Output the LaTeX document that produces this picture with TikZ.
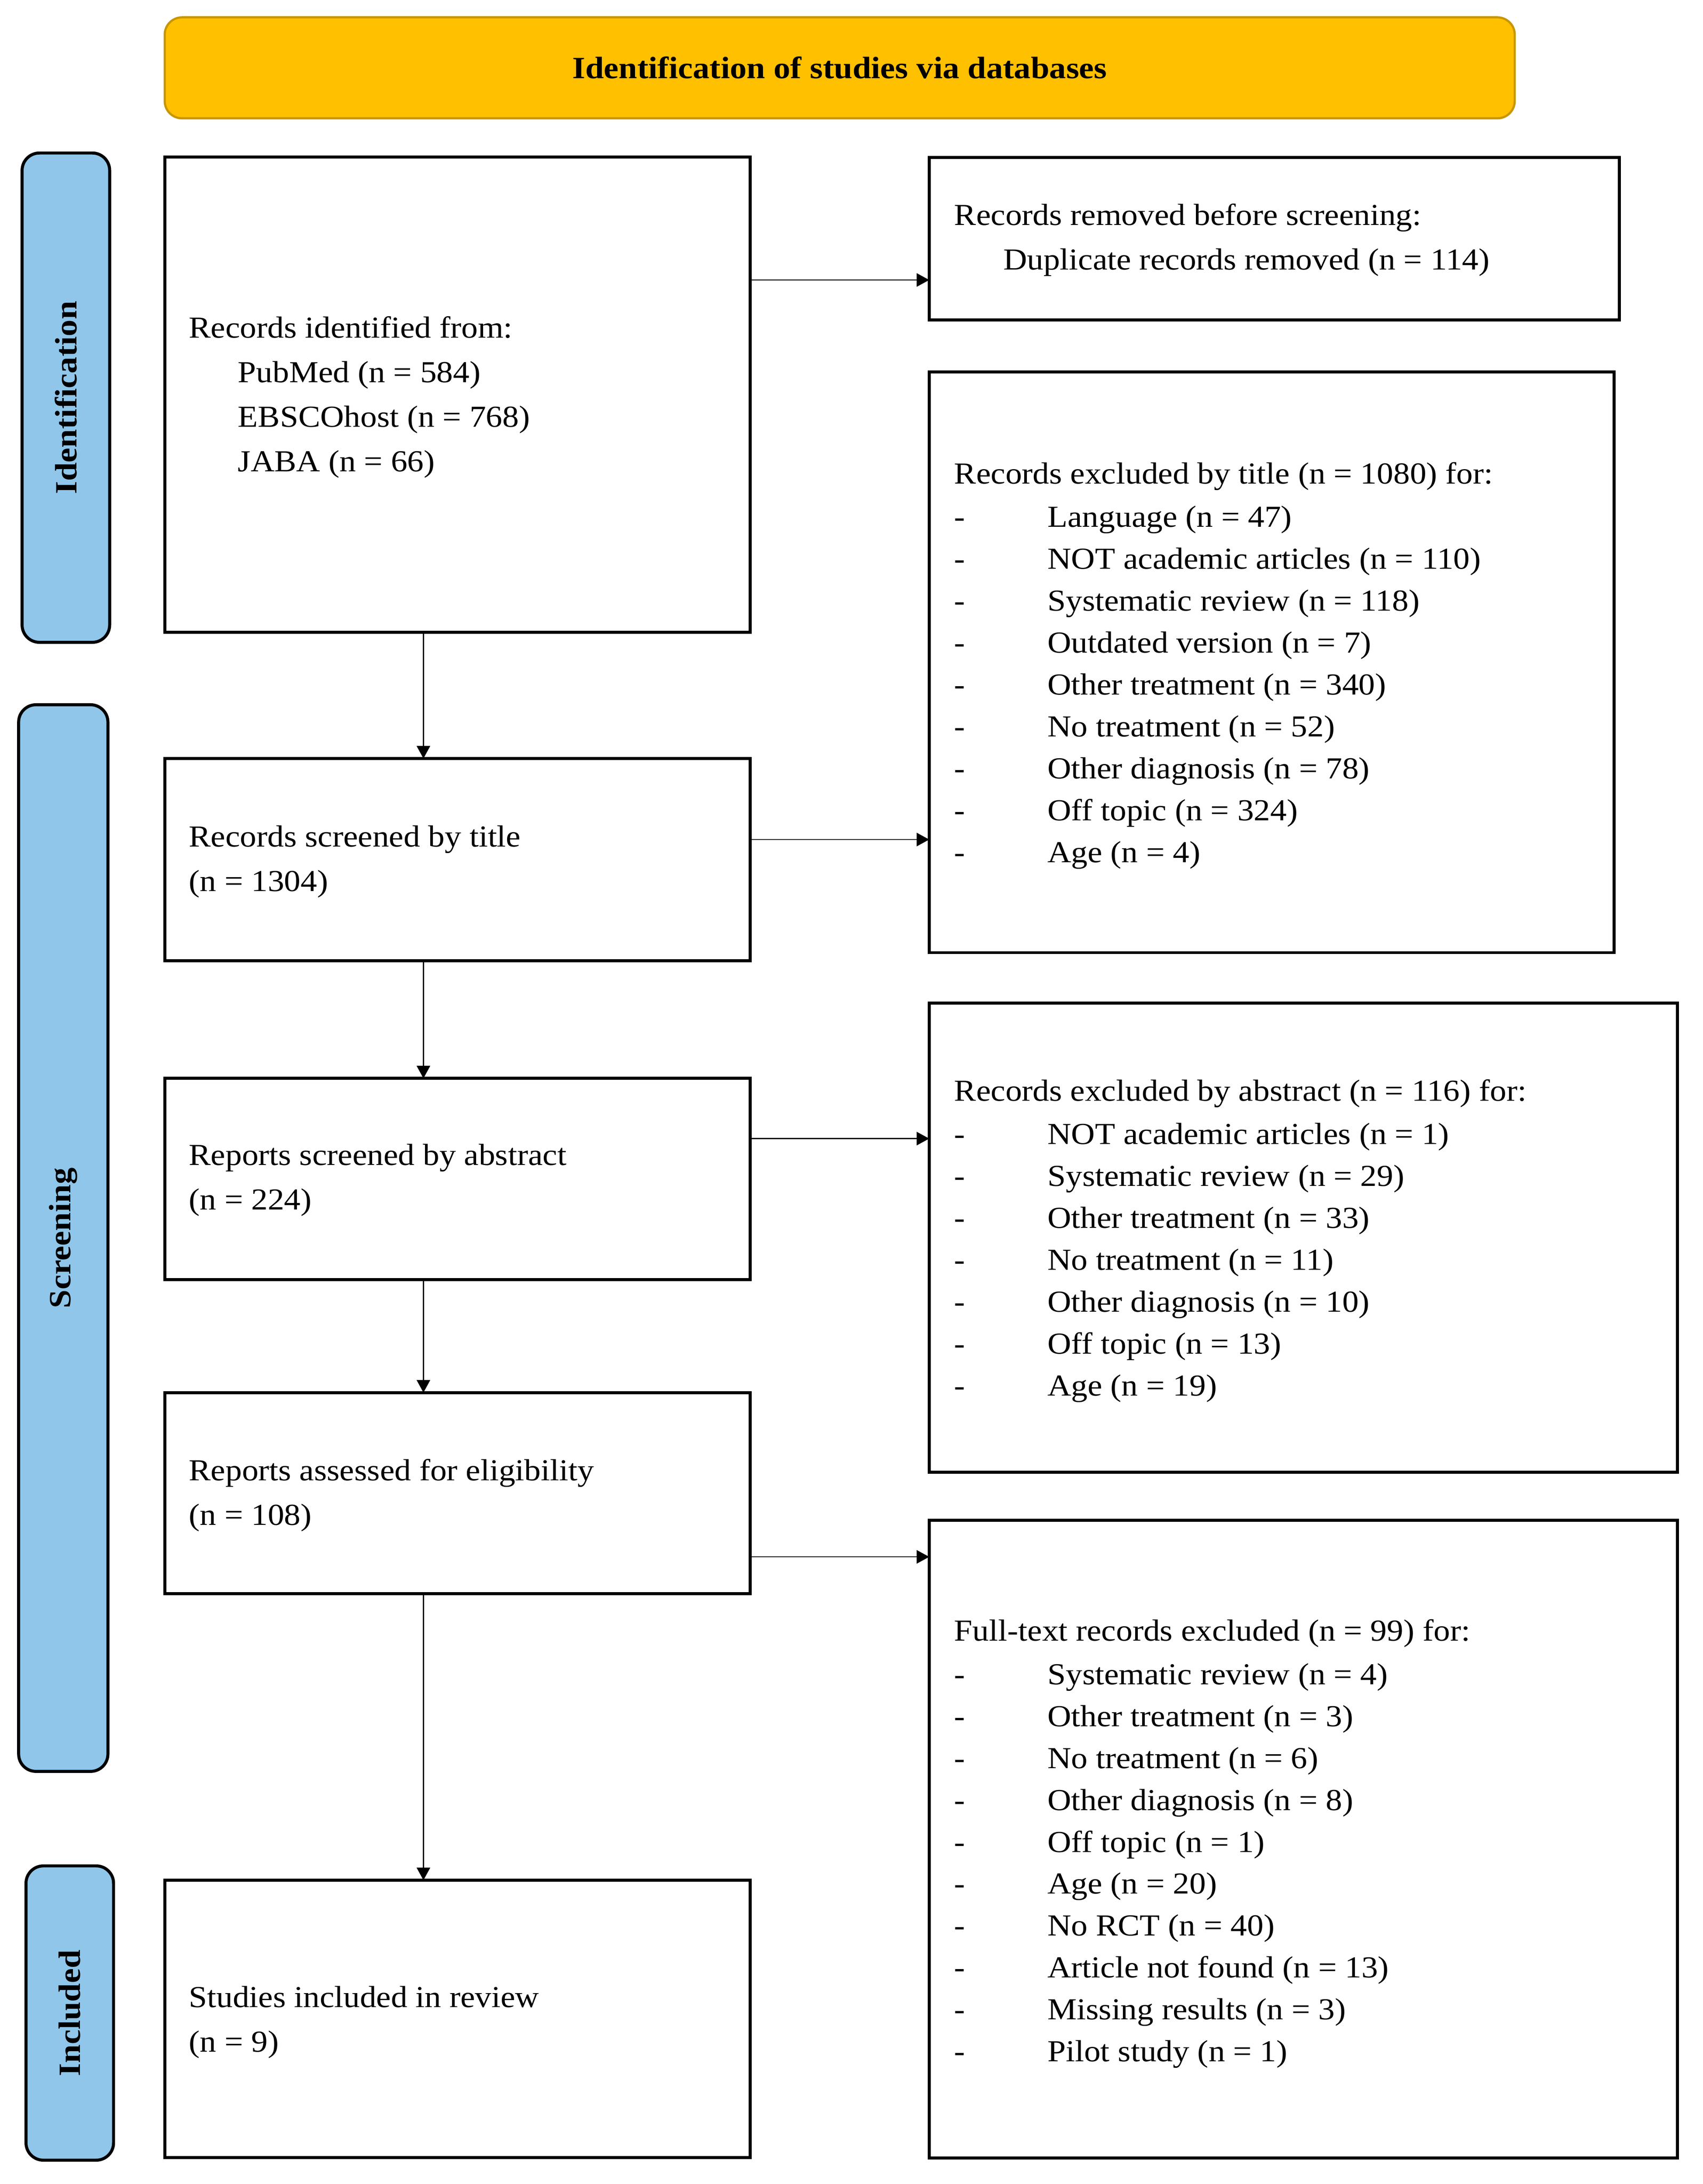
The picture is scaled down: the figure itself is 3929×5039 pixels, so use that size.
\documentclass[tikz,border=0pt]{standalone}
\usepackage{fontspec}
\setmainfont{Liberation Serif}[FakeStretch=1.08]
\usetikzlibrary{arrows.meta,fit}
\definecolor{bannerfill}{RGB}{255,192,0}
\definecolor{bannerline}{RGB}{200,150,0}
\definecolor{phaseblue}{RGB}{143,198,234}
\newcommand{\bodyfont}{\fontsize{20}{29.2}\selectfont}
\newcommand{\listfont}{\fontsize{20}{27.5}\selectfont}
\newcommand{\headfont}{\fontsize{20.3}{24}\selectfont\bfseries}
\newcommand{\itm}[1]{\makebox[2.15cm][l]{-}#1}
\begin{document}
\begin{tikzpicture}[x=0.01cm,y=-0.01cm,
  box/.style={draw=black,line width=0.07cm,fill=white,inner sep=0pt,outer sep=0pt},
  phase/.style={draw=black,line width=0.07cm,fill=phaseblue,rounded corners=0.4cm,inner sep=0pt,outer sep=0pt},
  banner/.style={draw=bannerline,line width=0.05cm,fill=bannerfill,rounded corners=0.4cm,inner sep=0pt,outer sep=0pt,font=\headfont},
  txt/.style={anchor=base west,inner sep=0pt,outer sep=0pt},
  lbl/.style={inner sep=0pt,font=\headfont,rotate=90},
  arr/.style={-{Triangle[length=0.29cm,width=0.31cm]},line width=0.025cm},
]
\useasboundingbox (0,0) rectangle (3929,5039);

% banner
\node[banner,fit={(380,40)(3495,273)}] (banner) {};
\node[font=\headfont,inner sep=0pt] (bannertext) at (banner.center) {Identification of studies via databases};

% phase labels
\node[phase,fit={(51,353)(253,1482)}] (idl) {};
\node[lbl] (idtext) at (idl.center) {Identification};
\node[phase,fit={(43,1626)(249,4087)}] (scl) {};
\node[lbl] (sctext) at (scl.center) {Screening};
\node[phase,fit={(60,4305)(262,4984)}] (inl) {};
\node[lbl] (intext) at (inl.center) {Included};

% left column boxes
\node[box,fit={(380,362)(1731,1459)}] (b1) {};
\node[box,fit={(380,1750)(1731,2217)}] (b2) {};
\node[box,fit={(380,2488)(1731,2952)}] (b3) {};
\node[box,fit={(380,3213)(1731,3677)}] (b4) {};
\node[box,fit={(380,4338)(1731,4978)}] (b5) {};

% right column boxes
\node[box,fit={(2144,363)(3736,738)}] (r1) {};
\node[box,fit={(2144,858)(3724,2198)}] (r2) {};
\node[box,fit={(2144,2314)(3870,3397)}] (r3) {};
\node[box,fit={(2144,3508)(3870,4979)}] (r4) {};

% texts, left column
\node[txt,font=\bodyfont] (t1) at (436,780) {\begin{tabular}[t]{@{}l@{}}Records identified from:\\
\hspace*{1.13cm}PubMed (n = 584)\\
\hspace*{1.13cm}EBSCOhost (n = 768)\\
\hspace*{1.13cm}JABA (n = 66)\end{tabular}};
\node[txt,font=\bodyfont] (t2) at (436,1954) {\begin{tabular}[t]{@{}l@{}}Records screened by title\\(n = 1304)\end{tabular}};
\node[txt,font=\bodyfont] (t3) at (436,2688) {\begin{tabular}[t]{@{}l@{}}Reports screened by abstract\\(n = 224)\end{tabular}};
\node[txt,font=\bodyfont] (t4) at (436,3416) {\begin{tabular}[t]{@{}l@{}}Reports assessed for eligibility\\(n = 108)\end{tabular}};
\node[txt,font=\bodyfont] (t5) at (436,4631) {\begin{tabular}[t]{@{}l@{}}Studies included in review\\(n = 9)\end{tabular}};

% texts, right column
\node[txt,font=\bodyfont] (s1) at (2202,520) {\begin{tabular}[t]{@{}l@{}}Records removed before screening:\\
\hspace*{1.13cm}Duplicate records removed (n = 114)\end{tabular}};
\node[txt,font=\listfont] (s2) at (2202,1116) {\begin{tabular}[t]{@{}l@{}}Records excluded by title (n = 1080) for:\\[0.035cm]
\itm{Language (n = 47)}\\
\itm{NOT academic articles (n = 110)}\\
\itm{Systematic review (n = 118)}\\
\itm{Outdated version (n = 7)}\\
\itm{Other treatment (n = 340)}\\
\itm{No treatment (n = 52)}\\
\itm{Other diagnosis (n = 78)}\\
\itm{Off topic (n = 324)}\\
\itm{Age (n = 4)}\end{tabular}};
\node[txt,font=\listfont] (s3) at (2202,2540) {\begin{tabular}[t]{@{}l@{}}Records excluded by abstract (n = 116) for:\\[0.035cm]
\itm{NOT academic articles (n = 1)}\\
\itm{Systematic review (n = 29)}\\
\itm{Other treatment (n = 33)}\\
\itm{No treatment (n = 11)}\\
\itm{Other diagnosis (n = 10)}\\
\itm{Off topic (n = 13)}\\
\itm{Age (n = 19)}\end{tabular}};
\node[txt,font=\listfont] (s4) at (2202,3786) {\begin{tabular}[t]{@{}l@{}}Full-text records excluded (n = 99) for:\\[0.035cm]
\itm{Systematic review (n = 4)}\\
\itm{Other treatment (n = 3)}\\
\itm{No treatment (n = 6)}\\
\itm{Other diagnosis (n = 8)}\\
\itm{Off topic (n = 1)}\\
\itm{Age (n = 20)}\\
\itm{No RCT (n = 40)}\\
\itm{Article not found (n = 13)}\\
\itm{Missing results (n = 3)}\\
\itm{Pilot study (n = 1)}\end{tabular}};

% connector guides
\coordinate (ax) at (977,0);
\coordinate (h1) at (0,646);
\coordinate (h2) at (0,1937);
\coordinate (h3) at (0,2627);
\coordinate (h4) at (0,3592);

% vertical arrows
\draw[arr] (b1.south -| ax) -- (b2.north -| ax);
\draw[arr] (b2.south -| ax) -- (b3.north -| ax);
\draw[arr] (b3.south -| ax) -- (b4.north -| ax);
\draw[arr] (b4.south -| ax) -- (b5.north -| ax);

% horizontal arrows
\draw[arr] (b1.east |- h1) -- (r1.west |- h1);
\draw[arr] (b2.east |- h2) -- (r2.west |- h2);
\draw[arr] (b3.east |- h3) -- (r3.west |- h3);
\draw[arr] (b4.east |- h4) -- (r4.west |- h4);
\end{tikzpicture}
\end{document}
